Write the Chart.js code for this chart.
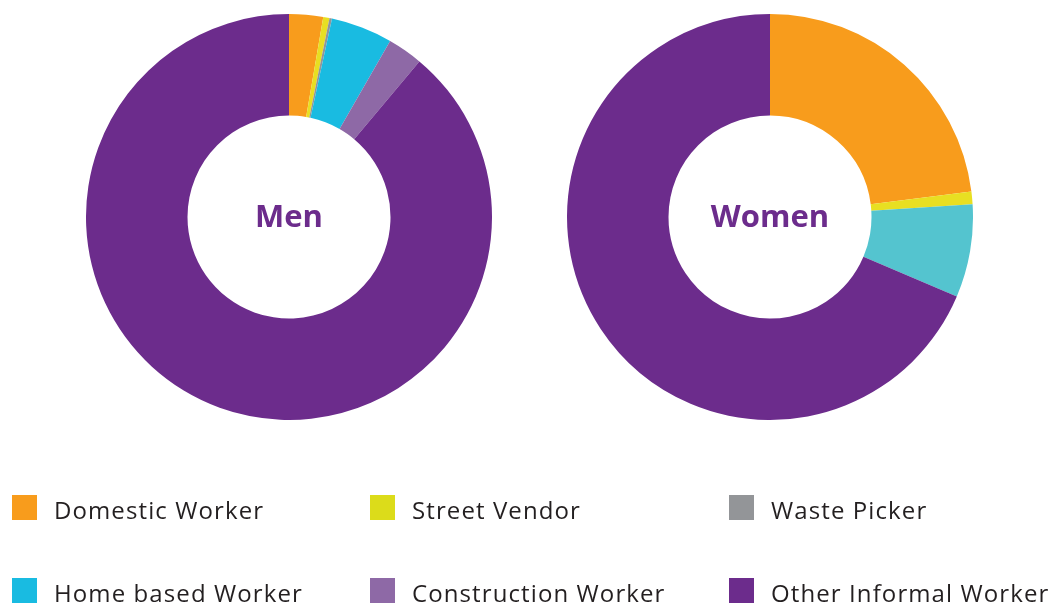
<!DOCTYPE html>
<html><head><meta charset="utf-8">
<script src="https://cdn.jsdelivr.net/npm/chart.js@4.4.0/dist/chart.umd.min.js"></script>
<style>
html,body{margin:0;padding:0;background:#fff;width:1053px;height:605px;overflow:hidden;font-family:"Open Sans",sans-serif;}
.wrap{position:absolute;width:406px;height:406px;top:14px;}
#legend{position:absolute;left:0;top:0;width:1053px;height:605px;pointer-events:none;}
.item{position:absolute;display:flex;align-items:center;font-size:24px;letter-spacing:1.1px;color:#231f20;white-space:nowrap;height:25px;}
.item .t{position:relative;top:2px;}
.box{width:25px;height:25px;margin-right:17px;flex:none;}
</style></head><body>
<div class="wrap" style="left:86px"><canvas id="men"></canvas></div>
<div class="wrap" style="left:567px"><canvas id="women"></canvas></div>
<div id="legend"></div>
<script>
const categories = ["Domestic Worker","Street Vendor","Waste Picker","Home based Worker","Construction Worker","Other Informal Worker"];
const menValues = [2.7, 0.5, 0.2, 4.9, 2.8, 88.9];
const womenValues = [23.0, 1.0, 0, 7.4, 0, 68.6];
const legendColors = ["#f89c1c","#dcdc1a","#939598","#19bbe1","#8e69a6","#6c2c8c"];
const menColors = ["#f89c1c","#e8df22","#939598","#19bbe1","#8e69a6","#6c2c8c"];
const womenColors = ["#f89c1c","#e8df22","#939598","#54c4cf","#8e69a6","#6c2c8c"];

const centerText = {
  id:'centerText',
  afterDraw(chart, args, opts){
    const {ctx} = chart; const m = chart.getDatasetMeta(0).data[0];
    ctx.save();
    ctx.font = 'bold 31px "Open Sans", sans-serif';
    ctx.fillStyle = '#6c2c8c'; ctx.textAlign='center'; ctx.textBaseline='middle';
    ctx.fillText(opts.text, m.x, m.y+1);
    ctx.restore();
  }
};
function make(id, values, colors, label){
  new Chart(document.getElementById(id), {
    type:'doughnut',
    data:{labels:categories, datasets:[{data:values, backgroundColor:colors, borderWidth:0}]},
    options:{responsive:true, maintainAspectRatio:false, animation:false, cutout:'50%',
      layout:{padding:0},
      plugins:{legend:{display:false}, tooltip:{enabled:false}, centerText:{text:label}}},
    plugins:[centerText]
  });
}
make('men', menValues, menColors, 'Men');
make('women', womenValues, womenColors, 'Women');

const lg = document.getElementById('legend');
const colX = [12, 370, 729];
const rowY = [495, 578];
categories.forEach((c,i)=>{
  const d = document.createElement('div'); d.className='item';
  d.style.left = colX[i%3]+'px'; d.style.top = rowY[Math.floor(i/3)]+'px';
  d.innerHTML = '<span class="box" style="background:'+legendColors[i]+'"></span><span class="t">'+c+'</span>';
  lg.appendChild(d);
});
</script>
</body></html>
